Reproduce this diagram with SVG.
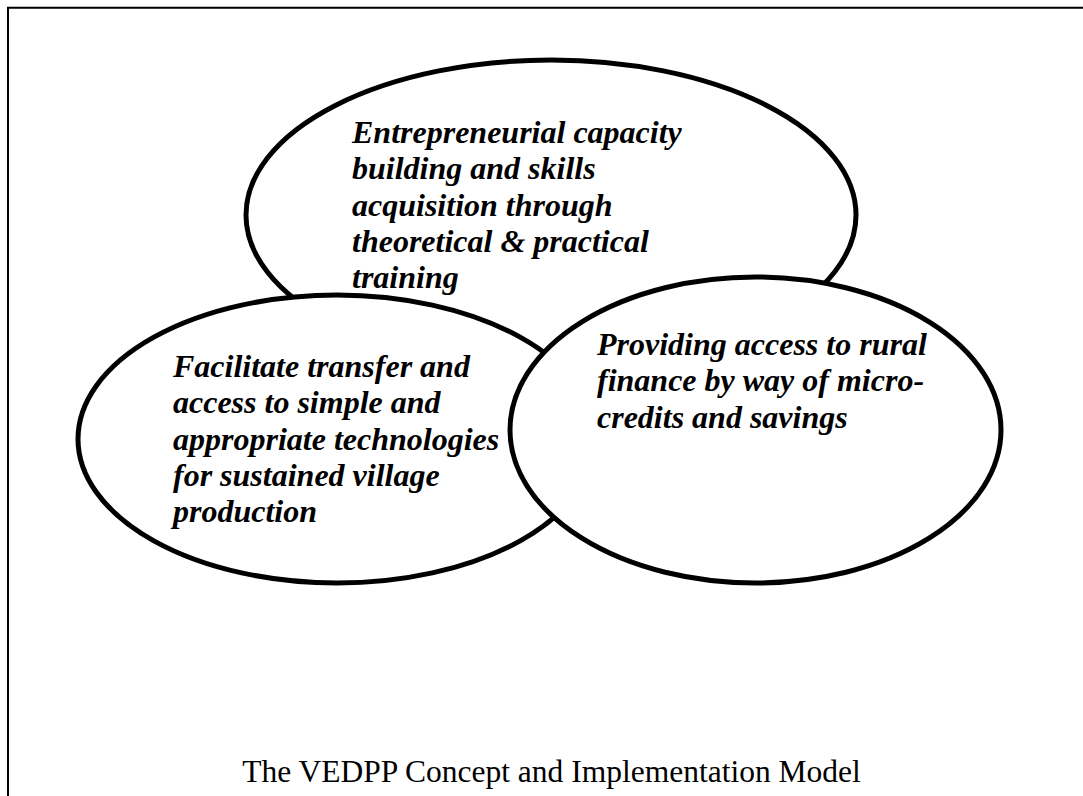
<svg xmlns="http://www.w3.org/2000/svg" width="1083" height="796" viewBox="0 0 1083 796">
<style>
.ell{fill:#fff;stroke:#000;stroke-width:5}
.lbl{font-family:"Liberation Serif","Times New Roman",serif;font-size:32px;font-weight:bold;font-style:italic;fill:#000}
.cap{font-family:"Liberation Serif","Times New Roman",serif;font-size:31.5px;fill:#000}
</style>
<rect width="1083" height="796" fill="#fff"/>
<path d="M8,796 V7.8 H1083" fill="none" stroke="#000" stroke-width="2"/>
<g id="node-capacity">
<ellipse class="ell" cx="551" cy="215" rx="305" ry="155"/>
<text class="lbl" x="352"><tspan x="352" y="143">Entrepreneurial capacity</tspan><tspan x="352" y="179.3">building and skills</tspan><tspan x="352" y="215.6">acquisition through</tspan><tspan x="352" y="251.9">theoretical &amp; practical</tspan><tspan x="352" y="288.2">training</tspan></text>
</g>
<g id="node-technology">
<ellipse class="ell" cx="337" cy="439" rx="259" ry="144"/>
<text class="lbl"><tspan x="173" y="377">Facilitate transfer and</tspan><tspan x="173" y="413.3">access to simple and</tspan><tspan x="173" y="449.6">appropriate technologies</tspan><tspan x="173" y="485.9">for sustained village</tspan><tspan x="173" y="522.2">production</tspan></text>
</g>
<g id="node-finance">
<ellipse class="ell" cx="755.5" cy="430" rx="245.5" ry="153"/>
<text class="lbl"><tspan x="597" y="355">Providing access to rural</tspan><tspan x="597" y="391.3">finance by way of micro-</tspan><tspan x="597" y="427.6">credits and savings</tspan></text>
</g>
<g id="connectors"></g>
<text id="caption" class="cap" x="551.5" y="782" text-anchor="middle">The VEDPP Concept and Implementation Model</text>
</svg>
